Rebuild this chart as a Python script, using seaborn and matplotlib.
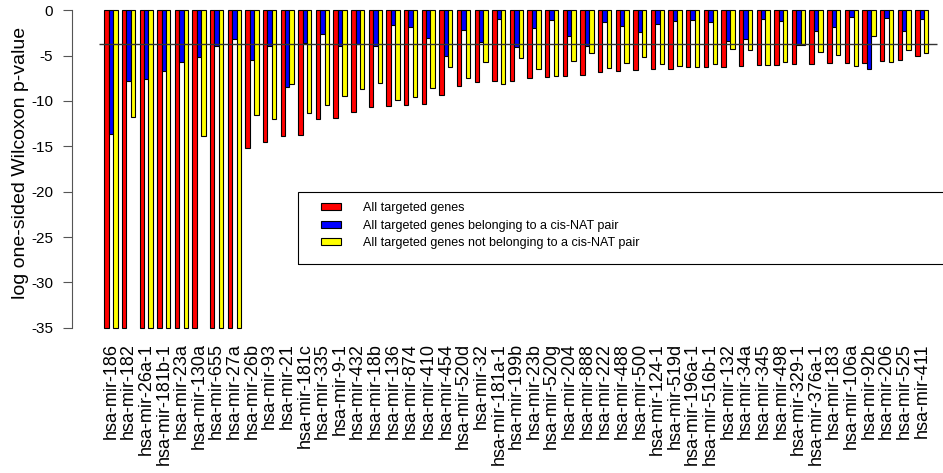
import numpy as np
import pandas as pd
import seaborn as sns
import matplotlib.pyplot as plt
from matplotlib.patches import Rectangle

mirnas = ["hsa-mir-186", "hsa-mir-182", "hsa-mir-26a-1", "hsa-mir-181b-1", "hsa-mir-23a",
          "hsa-mir-130a", "hsa-mir-655", "hsa-mir-27a", "hsa-mir-26b", "hsa-mir-93",
          "hsa-mir-21", "hsa-mir-181c", "hsa-mir-335", "hsa-mir-9-1", "hsa-mir-432",
          "hsa-mir-18b", "hsa-mir-136", "hsa-mir-874", "hsa-mir-410", "hsa-mir-454",
          "hsa-mir-520d", "hsa-mir-32", "hsa-mir-181a-1", "hsa-mir-199b", "hsa-mir-23b",
          "hsa-mir-520g", "hsa-mir-204", "hsa-mir-888", "hsa-mir-222", "hsa-mir-488",
          "hsa-mir-500", "hsa-mir-124-1", "hsa-mir-519d", "hsa-mir-196a-1", "hsa-mir-516b-1",
          "hsa-mir-132", "hsa-mir-34a", "hsa-mir-345", "hsa-mir-498", "hsa-mir-329-1",
          "hsa-mir-376a-1", "hsa-mir-183", "hsa-mir-106a", "hsa-mir-92b", "hsa-mir-206",
          "hsa-mir-525", "hsa-mir-411"]

all_genes = [-35, -35, -35, -35, -35, -35, -35, -35, -15.2, -14.55,
             -13.9, -13.7, -12.0, -11.85, -11.25, -10.7, -10.6, -10.45, -10.35, -9.3,
             -8.4, -7.95, -7.85, -7.75, -7.45, -7.35, -7.25, -7.15, -6.8, -6.65,
             -6.55, -6.45, -6.45, -6.3, -6.3, -6.3, -6.15, -6.05, -6.05, -5.9,
             -5.9, -5.85, -5.85, -5.85, -5.6, -5.5, -5.05]

cis_nat = [-13.65, -7.75, -7.6, -6.7, -5.65, -5.15, -3.9, -3.2, -5.45, -3.95,
           -8.5, -3.6, -2.6, -3.95, -3.75, -3.9, -1.65, -1.85, -3.1, -5.05,
           -2.15, -3.55, -0.95, -4.0, -1.9, -1.1, -2.85, -3.9, -1.25, -1.7,
           -2.4, -1.5, -1.15, -1.05, -1.25, -3.35, -3.15, -0.95, -1.15, -3.85,
           -2.25, -1.8, -0.7, -6.45, -0.8, -2.25, -1.0]

non_cis_nat = [-35, -11.8, -35, -35, -35, -13.9, -35, -35, -11.5, -12.0,
               -8.1, -11.3, -10.45, -9.5, -8.7, -8.05, -9.9, -9.55, -8.55, -6.2,
               -7.45, -5.75, -8.15, -5.3, -6.45, -7.25, -5.55, -4.75, -6.4, -5.85,
               -5.15, -5.9, -6.1, -6.2, -5.9, -4.25, -4.35, -6.05, -5.65, -3.85,
               -4.65, -4.95, -6.1, -2.8, -5.75, -4.35, -4.75]

series_names = ["All targeted genes",
                "All targeted genes belonging to a cis-NAT pair",
                "All targeted genes not belonging to a cis-NAT pair"]
colors = ["#FF0000", "#0000FF", "#FFFF00"]
threshold = -3.75

df = pd.DataFrame({
    "mirna": mirnas * 3,
    "value": all_genes + cis_nat + non_cis_nat,
    "set": np.repeat(series_names, len(mirnas)),
})

plt.rcParams["axes.unicode_minus"] = False
plt.rcParams["font.family"] = ["Liberation Sans", "DejaVu Sans"]

W, H = 943, 473
fig = plt.figure(figsize=(W / 100, H / 100), dpi=100)
# axes box placed in pixel terms so that 0 sits at y=10 and -35 at y=328
ax = fig.add_axes([72 / W, 1 - 340.4 / H, (W - 72) / W, 342.8 / H])

sns.barplot(data=df, x="mirna", y="value", hue="set", hue_order=series_names,
            palette=colors, saturation=1, width=0.75, edgecolor="black",
            linewidth=0.8, errorbar=None, ax=ax)

n = len(mirnas)
ax.set_xlim((72 - 110.9) / 17.63, (W - 110.9) / 17.63)
ax.set_ylim(-36.4, 1.4)
ax.hlines(threshold, -0.675, n - 1 + 0.86, color="#333333", lw=1, zorder=5)

for s in ["top", "right", "bottom"]:
    ax.spines[s].set_visible(False)
ax.spines["left"].set_bounds(-35, 0)
ax.spines["left"].set_color("#555555")
ax.spines["left"].set_linewidth(0.8)

ax.set_yticks(range(-35, 1, 5))
ax.set_yticklabels([str(v) for v in range(-35, 1, 5)], fontsize=11)
ax.tick_params(axis="y", length=6.5, width=0.8, color="#555555", pad=7)
ax.set_xticks(range(n))
ax.set_xticklabels(mirnas, rotation=90, fontsize=13)
ax.tick_params(axis="x", length=0, pad=2)
ax.set_xlabel("")
ax.set_ylabel("log one-sided Wilcoxon p-value", fontsize=14)
ax.yaxis.set_label_coords((29 - 72) / (W - 72), (340.4 - 162.5) / 342.8)

sns.move_legend(ax, "upper left", bbox_to_anchor=(321 / W, 1 - 202 / H),
                bbox_transform=fig.transFigure, frameon=False, title=None,
                fontsize=9, handlelength=1.57, handleheight=0.5, handletextpad=1.8,
                labelspacing=0.45, borderpad=0, borderaxespad=0)
fig.add_artist(Rectangle((297.5 / W, 1 - 264 / H), (965 - 297.5) / W, (264 - 191.7) / H,
                         transform=fig.transFigure, fill=False, edgecolor="black",
                         lw=0.8, clip_on=False))

fig.savefig("out.png", dpi=100)
